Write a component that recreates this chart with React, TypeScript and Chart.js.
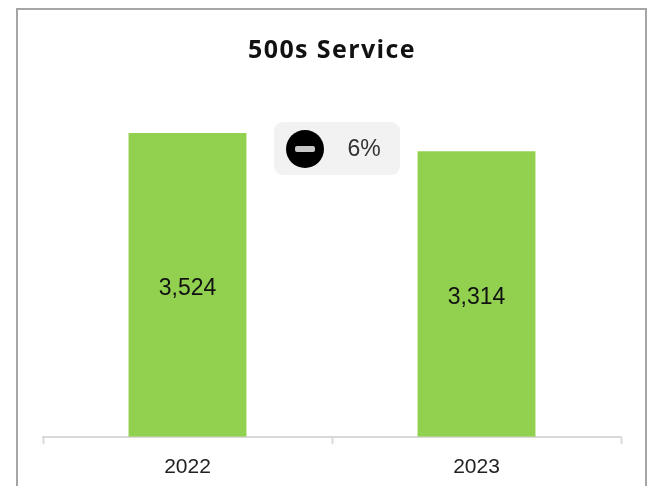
import React, { useEffect, useRef } from "react";
import { Chart, registerables } from "chart.js";

Chart.register(...registerables);

const years = ["2022", "2023"];
const serviceCounts = [3524, 3314];
const chartTitle = "500s Service";
const changeLabel = "6%";
const barColor = "#92d050";
const axisMax = 4000;
const fontFamily = "'Liberation Sans', Arial, sans-serif";
const titleFont = "'Open Sans', 'Liberation Sans', sans-serif";

// Title with slightly opened tracking, centred over the plot.
const spacedTitle = {
  id: "spacedTitle",
  afterDraw(chart: any) {
    const { ctx, chartArea } = chart;
    ctx.save();
    ctx.fillStyle = "#111111";
    ctx.font = `bold 25px ${titleFont}`;
    ctx.letterSpacing = "1.4px";
    ctx.textAlign = "center";
    ctx.textBaseline = "middle";
    ctx.fillText(chartTitle, (chartArea.left + chartArea.right) / 2, 51);
    ctx.restore();
  },
};

// Writes each year's total at the middle of its bar.
const barValueLabels = {
  id: "barValueLabels",
  afterDatasetsDraw(chart: any) {
    const { ctx } = chart;
    const bars = chart.getDatasetMeta(0).data;
    ctx.save();
    ctx.fillStyle = "#111111";
    ctx.font = `23px ${fontFamily}`;
    ctx.textAlign = "center";
    ctx.textBaseline = "middle";
    bars.forEach((bar: any, i: number) => {
      const midY = (bar.y + bar.base) / 2 + 4;
      ctx.fillText(serviceCounts[i].toLocaleString("en-US"), bar.x, midY);
    });
    ctx.restore();
  },
};

// Grey pill between the bars showing the year-on-year decrease.
const changeBadge = {
  id: "changeBadge",
  afterDraw(chart: any) {
    const { ctx } = chart;
    ctx.save();
    ctx.fillStyle = "#f2f2f2";
    ctx.beginPath();
    ctx.roundRect(274, 122, 126, 53, 9);
    ctx.fill();

    ctx.fillStyle = "#000000";
    ctx.beginPath();
    ctx.arc(305, 149, 19, 0, Math.PI * 2);
    ctx.fill();

    ctx.fillStyle = "#c8c8c8";
    ctx.beginPath();
    ctx.roundRect(295, 146, 20, 6, 2);
    ctx.fill();

    ctx.fillStyle = "#333333";
    ctx.font = `23px ${fontFamily}`;
    ctx.textAlign = "center";
    ctx.textBaseline = "middle";
    ctx.fillText(changeLabel, 364, 150);
    ctx.restore();
  },
};

export default function App() {
  const canvasRef = useRef<HTMLCanvasElement>(null);

  useEffect(() => {
    const chart = new Chart(canvasRef.current!, {
      type: "bar",
      data: {
        labels: years,
        datasets: [
          {
            data: serviceCounts,
            backgroundColor: barColor,
            categoryPercentage: 1,
            barPercentage: 0.408,
          },
        ],
      },
      options: {
        responsive: false,
        animation: false,
        layout: { padding: { left: 43, right: 33, top: 92, bottom: -5 } },
        plugins: {
          legend: { display: false },
          tooltip: { enabled: false },
          title: { display: false },
        },
        scales: {
          x: {
            border: { color: "#d9d9d9", width: 2 },
            grid: {
              display: true,
              offset: true,
              drawOnChartArea: false,
              drawTicks: true,
              tickLength: 7,
              tickWidth: 2,
              tickColor: "#d9d9d9",
            },
            ticks: {
              color: "#222222",
              font: { family: fontFamily, size: 21 },
              padding: 11,
            },
          },
          y: { display: false, min: 0, max: axisMax },
        },
      },
      plugins: [spacedTitle, barValueLabels, changeBadge],
    } as any);
    return () => chart.destroy();
  }, []);

  return (
    <div style={{ position: "relative", width: 654, height: 486, overflow: "hidden", background: "#fff" }}>
      <style>{"html, body { margin: 0; padding: 0; overflow: hidden; }"}</style>
      <canvas ref={canvasRef} width={654} height={486} style={{ display: "block", position: "absolute", left: 0, top: 0 }} />
      <div
        style={{
          position: "absolute",
          left: 16,
          top: 8,
          width: 631,
          height: 520,
          boxSizing: "border-box",
          border: "2px solid #a6a6a6",
          pointerEvents: "none",
        }}
      />
    </div>
  );
}
